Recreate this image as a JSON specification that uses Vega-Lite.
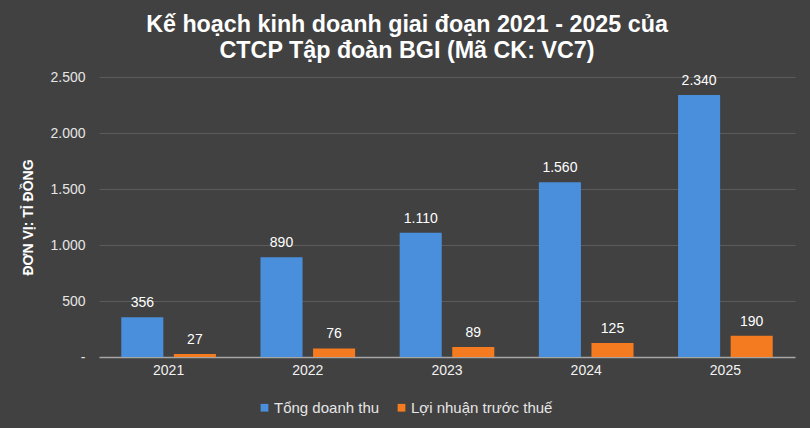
{
  "$schema": "https://vega.github.io/schema/vega-lite/v6.json",
  "width": 696,
  "height": 280,
  "autosize": {"type": "none"},
  "padding": {"left": 99, "top": 77, "right": 15, "bottom": 71},
  "background": "#414141",
  "title": {
    "text": ["Kế hoạch kinh doanh giai đoạn 2021 - 2025 của", "CTCP Tập đoàn BGI (Mã CK: VC7)"],
    "color": "#ffffff",
    "font": "Liberation Sans",
    "fontSize": 23.3,
    "fontWeight": "bold",
    "lineHeight": 26,
    "anchor": "middle",
    "dx": -40,
    "offset": 7
  },
  "data": {
    "values": [
      {"year": "2021", "series": "Tổng doanh thu", "value": 356},
      {"year": "2021", "series": "Lợi nhuận trước thuế", "value": 27},
      {"year": "2022", "series": "Tổng doanh thu", "value": 890},
      {"year": "2022", "series": "Lợi nhuận trước thuế", "value": 76},
      {"year": "2023", "series": "Tổng doanh thu", "value": 1110},
      {"year": "2023", "series": "Lợi nhuận trước thuế", "value": 89},
      {"year": "2024", "series": "Tổng doanh thu", "value": 1560},
      {"year": "2024", "series": "Lợi nhuận trước thuế", "value": 125},
      {"year": "2025", "series": "Tổng doanh thu", "value": 2340},
      {"year": "2025", "series": "Lợi nhuận trước thuế", "value": 190}
    ]
  },
  "encoding": {
    "x": {
      "field": "year",
      "type": "nominal",
      "title": null,
      "scale": {"paddingInner": 0.32, "paddingOuter": 0.16},
      "axis": {
        "labelAngle": 0,
        "labelColor": "#f2f2f2",
        "labelFont": "Liberation Sans",
        "labelFontSize": 14,
        "labelPadding": 6,
        "ticks": false,
        "domainColor": "#a6a6a6",
        "domainWidth": 1.5
      }
    },
    "xOffset": {
      "field": "series",
      "type": "nominal",
      "sort": ["Tổng doanh thu", "Lợi nhuận trước thuế"],
      "scale": {"paddingInner": 0.2}
    },
    "y": {
      "field": "value",
      "type": "quantitative",
      "title": "ĐƠN VỊ: TỈ ĐỒNG",
      "scale": {"domain": [0, 2500]},
      "axis": {
        "values": [0, 500, 1000, 1500, 2000, 2500],
        "labelExpr": "datum.value == 0 ? '-   ' : replace(format(datum.value, ','), ',', '.')",
        "labelColor": "#e6e6e6",
        "labelFont": "Liberation Sans",
        "labelFontSize": 14,
        "labelPadding": 14,
        "ticks": false,
        "domain": false,
        "gridColor": "#5c5c5c",
        "gridWidth": 1,
        "titleColor": "#ffffff",
        "titleFont": "Liberation Sans",
        "titleFontSize": 14,
        "titleFontWeight": "bold",
        "titlePadding": 14
      }
    }
  },
  "layer": [
    {
      "mark": {"type": "bar"},
      "encoding": {
        "color": {
          "field": "series",
          "type": "nominal",
          "sort": ["Tổng doanh thu", "Lợi nhuận trước thuế"],
          "scale": {"domain": ["Tổng doanh thu", "Lợi nhuận trước thuế"], "range": ["#4a8fdb", "#f47b20"]},
          "legend": {
            "title": null,
            "orient": "none",
            "direction": "horizontal",
            "legendX": 158,
            "legendY": 323,
            "symbolType": "square",
            "symbolSize": 60,
            "symbolOffset": 0,
            "labelColor": "#e6e6e6",
            "labelFont": "Liberation Sans",
            "labelFontSize": 15,
            "labelOffset": 2,
            "columnPadding": 14
          }
        }
      }
    },
    {
      "mark": {
        "type": "text",
        "baseline": "bottom",
        "dy": -7,
        "color": "#ffffff",
        "font": "Liberation Sans",
        "fontSize": 14
      },
      "encoding": {
        "text": {"field": "value", "type": "quantitative", "format": ",.0f"}
      }
    }
  ],
  "config": {
    "view": {"stroke": null},
    "locale": {"number": {"decimal": ",", "thousands": ".", "grouping": [3], "currency": ["", " đ"]}}
  }
}
